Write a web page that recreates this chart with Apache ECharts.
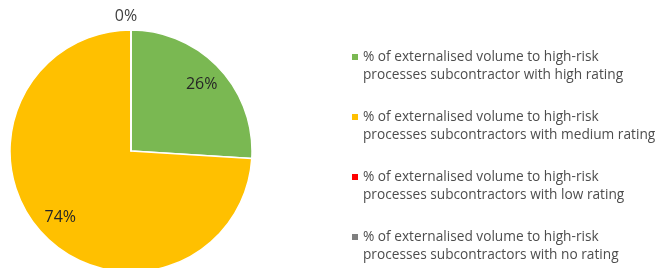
<!DOCTYPE html>
<html>
<head>
<meta charset="utf-8">
<script src="https://cdn.jsdelivr.net/npm/echarts@6/dist/echarts.min.js"></script>
<style>
  html, body { margin: 0; padding: 0; background: #fff; }
  #main { width: 658px; height: 268px; }
</style>
</head>
<body>
<div id="main"></div>
<script type="text/javascript">
// categories and values (percent of externalised volume)
var names = [
  '% of externalised volume to high-risk processes subcontractor with high rating',
  '% of externalised volume to high-risk processes subcontractors with medium rating',
  '% of externalised volume to high-risk processes subcontractors with low rating',
  '% of externalised volume to high-risk processes subcontractors with no rating'
];
var values = [26, 74, 0, 0];
var colors = ['#7ab852', '#ffc000', '#ff0000', '#7f7f7f'];

var chart = echarts.init(document.getElementById('main'));

// pie slices, only the first zero slice gets an outside label
var sliceData = names.map(function (n, i) {
  var d = { name: n, value: values[i] };
  if (values[i] === 0 && i === values.indexOf(0)) {
    d.label = { show: true };
  }
  return d;
});
// invisible bigger pie, only used to put the inner labels further out
var labelData = names.map(function (n, i) {
  return { name: n, value: values[i], label: { show: values[i] > 0 } };
});

var option = {
  color: colors,
  animation: false,
  legend: {
    orient: 'vertical',
    left: 352,
    top: 48,
    padding: 0,
    itemWidth: 6,
    itemHeight: 36,
    itemGap: 24,
    icon: 'path://M0,0L6,0M0,6L6,6L6,12L0,12ZM0,36L6,36',
    itemStyle: { borderWidth: 0 },
    data: names,
    formatter: function (name) {
      return name.replace(' processes', '\nprocesses');
    },
    textStyle: {
      fontFamily: 'Open Sans',
      fontSize: 13.7,
      lineHeight: 18,
      color: '#4d4d4d'
    }
  },
  series: [
    {
      type: 'pie',
      center: [131, 151],
      radius: 121,
      startAngle: 90,
      clockwise: true,
      avoidLabelOverlap: false,
      itemStyle: { borderColor: '#fff', borderWidth: 1.5 },
      label: {
        show: false,
        position: 'outside',
        formatter: '{c}%',
        fontFamily: 'Open Sans',
        fontSize: 16,
        color: '#404040'
      },
      labelLine: { show: false, length: 14, length2: 0 },
      labelLayout: { align: 'center' },
      emphasis: { disabled: true },
      data: sliceData
    },
    {
      type: 'pie',
      center: [131, 151],
      radius: 188,
      startAngle: 90,
      clockwise: true,
      silent: true,
      avoidLabelOverlap: false,
      itemStyle: { color: 'transparent', borderWidth: 0 },
      label: {
        position: 'inside',
        formatter: '{c}%',
        fontFamily: 'Open Sans',
        fontSize: 16,
        color: '#262626'
      },
      labelLine: { show: false },
      emphasis: { disabled: true },
      data: labelData
    }
  ]
};

chart.setOption(option);
window.addEventListener('resize', function () {
  chart.resize();
});
</script>
</body>
</html>
